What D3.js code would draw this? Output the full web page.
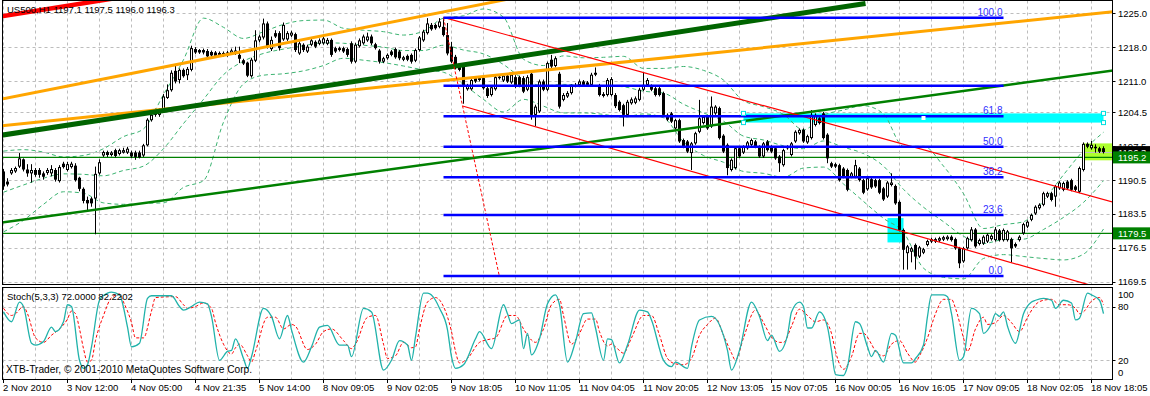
<!DOCTYPE html>
<html>
<head>
<meta charset="utf-8">
<script src="https://cdn.jsdelivr.net/npm/d3@7.9.0/dist/d3.min.js"></script>
<style>
  body { margin: 0; background: #fff; }
</style>
</head>
<body>
<svg id="chart" width="1150" height="396"></svg>
<script>
// hourly candles, [open, high, low, close], 2 Nov 2010 .. 18 Nov 2010
const candles = [
  [1192.3,1192.8,1188.5,1189.2],[1190.2,1190.9,1189.2,1189.6],[1191.9,1193.0,1191.6,1192.6],[1192.3,1193.3,1192.0,1193.0],
  [1193.3,1196.1,1193.0,1195.0],[1194.8,1195.0,1192.3,1192.7],[1192.7,1193.8,1191.2,1191.9],[1191.9,1193.8,1190.0,1192.6],
  [1192.6,1193.0,1191.2,1191.6],[1192.6,1193.0,1191.0,1191.6],[1191.9,1192.3,1190.6,1191.2],[1192.0,1193.0,1191.6,1192.6],
  [1191.9,1193.6,1191.3,1192.8],[1192.6,1193.0,1190.2,1190.6],[1190.3,1193.6,1190.0,1193.2],[1193.9,1194.3,1192.9,1193.2],
  [1192.6,1194.3,1192.3,1193.8],[1193.2,1194.3,1192.9,1193.9],[1193.5,1194.0,1190.2,1190.5],[1191.0,1191.2,1188.2,1188.7],
  [1188.7,1189.0,1185.7,1186.2],[1186.4,1187.1,1184.3,1185.7],[1186.7,1187.0,1185.0,1185.7],[1186.7,1193.3,1179.3,1191.8],
  [1191.9,1194.8,1191.6,1194.2],[1195.6,1196.6,1195.3,1196.3],[1196.3,1196.6,1195.3,1195.7],[1195.7,1196.5,1195.4,1196.2],
  [1196.7,1197.0,1195.2,1195.5],[1195.9,1197.0,1195.6,1196.7],[1196.2,1197.2,1196.0,1196.7],[1196.2,1197.4,1195.9,1197.0],
  [1196.2,1196.6,1195.1,1195.4],[1196.2,1196.6,1194.7,1195.3],[1196.2,1196.6,1195.0,1195.2],[1195.6,1198.0,1195.3,1197.7],
  [1197.7,1203.3,1197.5,1203.0],[1202.9,1204.4,1202.6,1204.0],[1204.0,1205.3,1203.6,1204.6],[1204.0,1205.4,1203.6,1204.8],
  [1205.0,1208.3,1204.8,1207.8],[1207.5,1210.3,1207.3,1209.1],[1209.1,1213.2,1208.8,1212.7],[1213.1,1214.4,1210.5,1210.9],
  [1211.2,1213.6,1210.5,1213.3],[1213.3,1213.6,1211.7,1212.0],[1212.2,1213.9,1211.2,1213.5],[1213.3,1218.3,1213.0,1217.8],
  [1217.6,1218.0,1216.6,1216.9],[1217.4,1217.6,1216.6,1216.9],[1217.4,1217.7,1216.5,1216.9],[1217.2,1217.6,1215.8,1216.1],
  [1217.0,1217.3,1216.0,1216.3],[1216.9,1217.2,1215.9,1216.2],[1216.8,1217.1,1216.0,1216.3],[1216.8,1217.1,1216.0,1216.3],
  [1216.3,1217.2,1216.0,1216.9],[1216.7,1217.7,1216.4,1217.3],[1216.7,1218.1,1216.4,1217.3],[1216.4,1218.1,1214.7,1215.6],
  [1215.3,1215.6,1214.3,1214.6],[1214.8,1215.0,1211.8,1212.1],[1212.0,1215.8,1211.7,1215.4],[1215.2,1221.5,1214.9,1219.4],
  [1219.4,1220.6,1219.0,1220.2],[1220.0,1223.9,1219.6,1222.9],[1222.9,1223.3,1217.7,1218.1],[1217.6,1220.2,1217.2,1219.5],
  [1220.9,1221.5,1219.9,1220.2],[1220.9,1221.3,1217.3,1217.8],[1219.6,1223.1,1219.3,1222.6],[1219.6,1221.3,1219.3,1220.9],
  [1220.4,1221.4,1220.1,1221.0],[1220.7,1221.0,1217.0,1217.4],[1216.7,1219.2,1216.4,1218.8],[1218.5,1218.8,1217.0,1217.4],
  [1217.1,1218.5,1216.8,1218.1],[1218.5,1219.8,1218.2,1219.4],[1219.1,1219.4,1217.8,1218.1],[1218.7,1219.8,1218.4,1219.4],
  [1218.8,1220.2,1218.5,1219.8],[1218.7,1219.9,1218.4,1219.5],[1219.5,1219.8,1216.0,1216.4],[1217.8,1218.1,1216.8,1217.1],
  [1217.4,1218.1,1217.1,1217.8],[1217.8,1218.1,1216.8,1217.1],[1217.6,1217.9,1216.0,1216.4],[1218.8,1219.2,1214.6,1215.0],
  [1215.0,1218.9,1214.7,1218.5],[1218.2,1219.8,1217.9,1219.4],[1218.8,1220.6,1218.5,1220.2],[1219.4,1221.0,1219.1,1220.2],
  [1220.2,1220.6,1218.4,1218.8],[1218.6,1218.9,1217.5,1217.8],[1217.3,1217.6,1214.6,1215.0],[1215.0,1216.0,1214.7,1215.7],
  [1215.7,1216.7,1215.4,1216.4],[1217.1,1217.4,1216.1,1216.4],[1217.6,1217.9,1215.6,1215.9],[1217.1,1217.4,1215.3,1215.7],
  [1215.4,1216.2,1215.1,1215.9],[1216.2,1216.5,1215.1,1215.4],[1216.4,1216.7,1214.6,1215.0],[1215.2,1217.7,1214.9,1217.4],
  [1217.4,1220.3,1217.1,1220.0],[1219.4,1221.6,1219.1,1221.2],[1220.9,1224.0,1220.6,1222.9],[1222.6,1223.0,1221.4,1221.7],
  [1222.6,1222.9,1221.6,1221.9],[1222.2,1224.0,1221.9,1223.3],[1222.2,1224.1,1220.2,1220.5],[1220.5,1223.0,1216.3,1216.7],
  [1218.1,1219.1,1214.7,1215.0],[1216.0,1216.4,1213.4,1213.8],[1214.3,1214.6,1213.0,1213.3],[1214.0,1214.3,1206.3,1209.8],
  [1209.3,1210.4,1209.0,1210.0],[1209.3,1211.5,1209.0,1211.2],[1211.6,1212.0,1210.6,1210.9],[1211.2,1212.0,1210.9,1211.6],
  [1211.6,1212.0,1209.2,1209.5],[1209.5,1209.8,1207.5,1207.9],[1208.1,1210.0,1207.8,1209.7],[1209.3,1212.2,1209.0,1211.8],
  [1211.6,1212.3,1211.3,1211.9],[1211.1,1212.5,1210.8,1212.1],[1212.1,1212.5,1210.6,1210.9],[1210.7,1212.7,1210.4,1212.3],
  [1211.8,1212.2,1209.5,1209.8],[1211.8,1212.1,1209.7,1210.0],[1211.6,1212.0,1208.5,1208.8],[1209.2,1212.2,1208.9,1211.8],
  [1212.5,1212.9,1203.0,1204.0],[1204.0,1206.1,1201.7,1205.7],[1204.7,1211.3,1204.4,1210.9],[1210.9,1211.3,1208.9,1209.2],
  [1209.2,1215.0,1208.9,1214.7],[1215.4,1216.4,1213.7,1214.0],[1214.1,1216.1,1213.8,1215.7],[1212.5,1212.9,1205.3,1205.7],
  [1207.1,1208.5,1206.8,1208.1],[1207.8,1208.9,1207.5,1208.5],[1208.5,1210.3,1208.2,1210.0],[1210.2,1210.6,1209.7,1210.0],
  [1210.2,1211.3,1209.9,1210.9],[1210.9,1211.2,1209.9,1210.2],[1210.7,1211.0,1209.9,1210.2],[1210.2,1212.7,1209.9,1212.3],
  [1212.3,1213.8,1212.0,1212.7],[1210.0,1210.4,1207.8,1208.1],[1208.3,1208.7,1207.6,1207.9],[1208.1,1211.6,1207.8,1211.2],
  [1208.1,1211.8,1207.8,1211.4],[1208.1,1208.5,1205.4,1205.8],[1206.7,1207.0,1204.7,1205.0],[1206.0,1206.3,1201.6,1204.0],
  [1204.0,1207.1,1203.7,1206.7],[1206.4,1207.6,1206.1,1207.2],[1206.5,1207.8,1206.2,1207.4],[1207.1,1209.6,1206.8,1209.2],
  [1209.2,1212.9,1208.9,1210.2],[1210.2,1211.6,1209.9,1211.2],[1210.0,1210.3,1208.9,1209.2],[1209.5,1209.8,1207.8,1208.1],
  [1209.5,1209.8,1207.8,1208.1],[1208.5,1208.8,1203.7,1204.0],[1204.0,1204.3,1202.7,1203.0],[1204.3,1204.6,1202.3,1202.6],
  [1201.2,1203.2,1200.9,1202.9],[1202.9,1203.2,1198.2,1198.5],[1198.8,1199.1,1197.1,1197.4],[1198.5,1198.8,1196.1,1196.4],
  [1196.1,1198.4,1192.6,1198.1],[1198.1,1200.5,1197.8,1200.2],[1200.5,1207.1,1200.2,1203.3],[1202.3,1203.9,1202.0,1203.6],
  [1203.6,1203.9,1200.9,1201.2],[1201.6,1207.8,1201.3,1205.7],[1204.3,1206.0,1204.0,1205.7],[1205.4,1205.7,1198.9,1199.2],
  [1199.7,1200.0,1196.1,1196.4],[1197.8,1198.1,1191.5,1193.0],[1192.6,1195.0,1192.3,1194.7],[1193.0,1197.4,1192.7,1197.1],
  [1197.1,1197.4,1195.1,1195.4],[1196.2,1197.7,1195.9,1197.4],[1197.1,1198.6,1196.8,1198.3],[1197.8,1199.1,1197.5,1198.8],
  [1198.5,1198.8,1197.1,1197.4],[1197.4,1197.7,1195.1,1195.4],[1195.4,1198.4,1195.1,1198.1],[1198.5,1198.8,1196.4,1196.7],
  [1197.4,1197.7,1196.1,1196.4],[1197.1,1197.4,1194.7,1195.0],[1195.4,1195.7,1192.2,1194.0],[1193.6,1197.0,1193.3,1196.7],
  [1197.4,1197.7,1196.8,1197.1],[1195.7,1198.4,1195.4,1198.1],[1198.5,1200.8,1198.2,1200.5],[1200.2,1201.2,1199.9,1200.9],
  [1200.9,1201.2,1198.2,1198.5],[1198.3,1199.9,1198.0,1199.6],[1199.2,1205.0,1198.9,1204.0],[1201.9,1204.3,1201.6,1204.0],
  [1203.3,1203.6,1202.0,1202.3],[1204.3,1204.6,1198.9,1199.2],[1199.9,1200.2,1194.0,1195.0],[1194.0,1194.3,1193.0,1193.3],
  [1193.8,1194.1,1193.0,1193.3],[1193.6,1193.9,1190.2,1190.5],[1192.9,1193.2,1190.9,1191.2],[1192.6,1192.9,1188.2,1188.5],
  [1191.2,1192.2,1190.9,1191.9],[1191.2,1194.7,1190.9,1193.6],[1192.9,1193.2,1190.2,1190.5],[1190.5,1190.8,1187.6,1187.9],
  [1188.6,1191.2,1188.3,1190.9],[1190.7,1191.0,1188.7,1189.0],[1190.5,1190.8,1188.9,1189.2],[1190.5,1190.8,1187.6,1187.9],
  [1188.8,1189.1,1186.2,1186.5],[1187.1,1190.3,1186.8,1190.0],[1189.5,1191.9,1189.2,1190.0],[1189.3,1189.6,1185.4,1185.7],
  [1186.0,1186.3,1179.9,1180.2],[1180.2,1180.5,1172.0,1176.1],[1175.4,1177.1,1172.0,1176.8],[1175.7,1176.7,1173.5,1176.4],
  [1177.1,1177.4,1172.0,1174.7],[1174.7,1176.9,1174.4,1176.6],[1175.5,1176.5,1175.2,1176.2],[1177.1,1178.2,1176.8,1177.9],
  [1177.8,1178.6,1177.5,1178.3],[1177.8,1178.6,1177.5,1178.3],[1178.0,1178.8,1177.7,1178.5],[1178.2,1179.0,1177.9,1178.7],
  [1178.3,1179.1,1178.0,1178.8],[1178.8,1179.1,1177.8,1178.1],[1178.3,1178.6,1176.1,1176.4],[1176.4,1176.7,1172.3,1173.3],
  [1173.7,1176.7,1173.4,1176.4],[1176.4,1178.8,1176.1,1178.5],[1178.1,1180.8,1177.8,1180.3],[1180.3,1180.6,1176.5,1176.8],
  [1177.3,1178.4,1177.0,1178.1],[1177.4,1179.1,1177.1,1178.8],[1177.8,1179.5,1177.5,1179.2],[1178.3,1179.3,1178.0,1179.0],
  [1178.1,1180.8,1177.8,1180.3],[1180.1,1180.4,1177.8,1178.1],[1178.1,1180.5,1177.8,1180.2],[1178.1,1180.2,1177.8,1179.9],
  [1178.3,1178.6,1173.5,1176.4],[1177.3,1177.6,1176.5,1176.8],[1178.1,1179.1,1177.8,1178.8],[1179.5,1181.7,1179.2,1181.4],
  [1180.9,1182.2,1180.6,1181.9],[1182.3,1183.6,1182.0,1183.3],[1183.6,1185.3,1183.3,1185.0],[1184.7,1185.7,1184.4,1185.4],
  [1185.4,1188.1,1185.1,1187.8],[1187.1,1188.1,1186.8,1187.8],[1187.8,1188.1,1186.1,1186.4],[1187.1,1189.5,1185.0,1189.2],
  [1188.8,1190.3,1188.5,1190.0],[1188.5,1190.2,1188.2,1189.9],[1190.2,1190.5,1188.5,1188.8],[1190.5,1190.8,1188.2,1188.5],
  [1189.2,1189.5,1188.2,1188.5],[1188.1,1193.3,1187.8,1193.0],[1192.6,1198.3,1192.3,1198.0],[1198.0,1198.3,1197.1,1197.4],
  [1197.1,1198.6,1196.8,1197.8],[1197.4,1197.9,1196.2,1197.1],[1197.1,1197.4,1196.1,1196.4],[1197.1,1197.5,1196.0,1196.3]
];

// bollinger bands, read every 5 bars
const bandBars = d3.range(0, 276, 5);
const bandUpper = [1196.5,1196.8,1196.3,1195.3,1195.6,1197.0,1199.5,1201.1,1208.2,1215.4,1224.0,1222.1,1219.8,1221.2,
  1222.7,1223.5,1223.6,1221.9,1221.5,1221.2,1220.5,1221.3,1224.0,1224.5,1225.9,1224.2,1215.5,1214.2,1216.2,1215.8,
  1215.9,1216.1,1213.6,1213.6,1214.0,1213.2,1211.2,1206.9,1205.7,1204.1,1200.9,1203.9,1205.0,1205.9,1204.2,1197.5,
  1197.5,1193.4,1187.7,1180.5,1181.3,1181.9,1186.3,1191.6,1196.6,1200.4];
const bandMid = [1188.0,1189.5,1190.9,1191.8,1191.7,1191.4,1192.5,1193.4,1197.0,1202.2,1207.2,1212.3,1215.1,1216.7,
  1217.6,1218.3,1218.9,1218.8,1218.4,1218.0,1217.3,1217.3,1218.4,1217.4,1216.6,1214.4,1211.4,1210.0,1210.3,1210.1,
  1210.0,1209.8,1208.9,1208.5,1206.2,1204.4,1202.7,1199.6,1198.8,1197.6,1197.0,1198.6,1197.3,1196.0,1193.4,1188.6,
  1184.9,1181.9,1178.9,1177.4,1178.2,1178.3,1180.3,1182.8,1185.9,1190.4];
const bandLower = [1179.8,1182.2,1185.5,1188.1,1187.8,1185.8,1185.5,1185.7,1185.8,1189.0,1190.4,1202.5,1210.4,1212.2,
  1212.5,1213.1,1214.2,1215.7,1215.3,1214.8,1214.1,1213.3,1212.8,1210.3,1207.2,1204.6,1207.2,1205.8,1204.4,1204.4,
  1204.1,1203.5,1204.2,1203.4,1198.4,1195.6,1194.2,1192.3,1191.9,1191.1,1193.0,1193.2,1189.7,1186.1,1182.6,1179.7,
  1172.3,1170.4,1170.1,1174.3,1175.1,1174.7,1174.3,1174.0,1175.2,1180.4];

// stochastic (5,3,3): [bar, value]
const stochK = [[0,74],[2,63],[4,85],[5,80],[7,39],[8,37],[10,41],[12,57],[13,52],[15,63],[16,82],[17,80],[19,20],[20,11],
  [21,15],[22,35],[24,87],[26,95],[27,96],[29,93],[31,57],[32,35],[34,39],[36,89],[37,92],[42,92],[44,80],[45,76],[47,80],
  [49,85],[51,83],[52,69],[54,20],[56,30],[57,31],[58,44],[60,22],[61,11],[62,24],[65,78],[67,69],[69,44],[71,70],[72,54],
  [75,18],[77,35],[79,57],[81,59],[84,37],[86,37],[87,24],[90,78],[92,74],[95,9],[97,20],[99,42],[101,37],[102,20],[103,46],
  [105,95],[106,95],[108,87],[109,78],[111,54],[112,24],[113,11],[115,15],[118,44],[119,52],[122,33],[125,82],[126,72],
  [127,61],[129,65],[130,33],[131,50],[132,26],[134,44],[136,83],[138,93],[139,82],[141,18],[143,41],[145,72],[147,73],
  [148,56],[150,20],[151,44],[152,43],[154,17],[156,37],[159,76],[161,74],[162,65],[165,20],[167,13],[168,18],[171,11],
  [172,35],[174,65],[177,69],[181,31],[182,9],[184,31],[187,85],[189,69],[191,42],[192,48],[194,30],[196,48],[197,74],
  [199,85],[200,80],[201,56],[202,56],[204,74],[206,57],[207,31],[208,4],[210,3],[211,13],[213,63],[214,61],[216,35],
  [217,24],[218,31],[220,18],[222,50],[223,48],[225,17],[227,17],[228,22],[230,37],[231,69],[232,93],[235,93],[236,91],
  [237,72],[239,20],[240,24],[242,78],[244,72],[245,50],[247,61],[248,72],[249,69],[250,74],[251,58],[253,39],[255,72],
  [257,85],[258,87],[260,89],[262,87],[263,78],[265,87],[267,84],[268,65],[269,67],[271,95],[272,93],[274,87],[275,72]];
const stochD = [[0,78],[2,70],[3,72],[5,80],[6,72],[8,45],[10,40],[12,48],[14,55],[16,66],[17,75],[18,72],[19,55],[20,33],
  [21,18],[22,20],[23,42],[25,70],[27,90],[29,94],[30,85],[32,62],[33,45],[35,45],[37,75],[38,90],[43,91],[45,82],[46,78],
  [48,80],[50,84],[52,78],[53,62],[55,38],[57,27],[58,34],[59,38],[61,25],[62,18],[63,30],[66,68],[68,68],[70,55],[72,60],
  [73,58],[76,32],[78,38],[80,52],[82,55],[85,42],[87,33],[88,38],[91,68],[93,70],[95,38],[96,22],[98,25],[100,40],[102,34],
  [103,35],[104,55],[106,85],[108,90],[110,80],[112,52],[113,30],[114,17],[116,22],[119,40],[121,43],[123,45],[126,70],
  [128,70],[130,55],[131,48],[133,40],[135,55],[137,82],[139,88],[140,70],[142,38],[144,50],[146,66],[148,66],[149,52],
  [151,36],[152,38],[153,35],[155,28],[157,45],[160,70],[162,70],[164,48],[166,22],[168,16],[170,15],[172,22],[174,48],
  [176,60],[178,67],[180,48],[182,28],[183,20],[185,45],[188,76],[190,62],[192,46],[194,40],[195,40],[197,58],[199,77],
  [201,70],[203,63],[205,65],[207,50],[208,30],[210,10],[212,24],[214,50],[215,50],[217,38],[218,30],[220,25],[222,38],
  [224,42],[226,28],[228,18],[229,25],[231,45],[233,72],[235,88],[237,88],[238,78],[240,45],[241,30],[243,55],[245,68],
  [246,60],[248,62],[250,70],[252,62],[254,52],[256,68],[258,82],[260,87],[262,88],[264,82],[266,82],[268,78],[269,72],
  [270,74],[272,86],[274,90],[275,82]];

const timeLabels = ['2 Nov 2010','3 Nov 12:00','4 Nov 05:00','4 Nov 21:35','5 Nov 14:00','8 Nov 09:05','9 Nov 02:05',
  '9 Nov 18:05','10 Nov 11:05','11 Nov 04:05','11 Nov 20:05','12 Nov 13:05','15 Nov 07:05','16 Nov 00:05',
  '16 Nov 16:05','17 Nov 09:05','18 Nov 02:05','18 Nov 18:05'];
const priceTicks = [1225.0,1218.0,1211.0,1204.5,1197.5,1190.5,1183.5,1176.5,1169.5];
const stochTicks = [100, 80, 20, 0];
const stochGrid = [80, 20];

// drawn objects: [bar, price] anchors
const redThick = [[-2,1224.19],[40,1229.71]];
const greenThick = [[-2,1199.6],[215.5,1227.03]];
const orangeUpper = [[-2,1207.03],[140,1230.18]];
const orangeLower = [[-2,1201.61],[278,1225.35]];
const greenLine = [[-2,1181.57],[278,1213.24]];
const redUpper = [[110,1224.15],[278,1185.83]];
const redLower = [[114.75,1205.83],[278,1167.3]];
const fibTrend = [[110,1224.1],[124,1170.5]];
const fibRange = [110, 250, 1170.68, 1224.1];   // bar from, bar to, 0% price, 100% price
const fibLevels = [0, 23.6, 38.2, 50, 61.8, 73.6, 100];
const fibNames = ['0.0','23.6','38.2','50.0','61.8','','100.0'];
const hLines = [1195.2, 1179.5];
const bidPrice = 1196.3;
const cyanZone = [185, 275, 1204.3, 1202.4];
const cyanBox = [221, 225, 1182.66, 1177.62];
const limeZone = [270, 285, 1198.1, 1194.6];
const title = 'US500,H1  1197.1 1197.5 1196.0 1196.3';
const stochTitle = 'Stoch(5,3,3) 72.0000 82.2202';
const copyright = 'XTB-Trader, \u00a9 2001-2010 MetaQuotes Software Corp.';

const FONT = '"Liberation Sans", Arial, sans-serif';
const FS = 9.5;
const left = 2.5, right = 1112.5, mainTop = 0.5, mainBot = 284.5, subTop = 287.5, subBot = 379.5;

const svg = d3.select('#chart');
svg.append('rect').attr('width', 1150).attr('height', 396).attr('fill', '#fff');

const x = d3.scaleLinear().domain([0, 275]).range([3.5, 1103.5]);
const y = d3.scaleLinear().domain([1169.5, 1225]).range([281.7, 13.3]);
const ys = d3.scaleLinear().domain([0, 100]).range([378.2, 288.6]);

const defs = svg.append('defs');
defs.append('clipPath').attr('id', 'clipMain').append('rect')
  .attr('x', left).attr('y', mainTop).attr('width', right - left).attr('height', mainBot - mainTop);
defs.append('clipPath').attr('id', 'clipSub').append('rect')
  .attr('x', left).attr('y', subTop).attr('width', right - left).attr('height', subBot - subTop);

const main = svg.append('g').attr('clip-path', 'url(#clipMain)');
const sub = svg.append('g').attr('clip-path', 'url(#clipSub)');
const gridBars = d3.range(0, 276, 8);
const crisp = v => Math.round(v) + 0.5;

// grid
main.selectAll('.hg').data(priceTicks).join('line').attr('class', 'hg')
  .attr('x1', left).attr('x2', right).attr('y1', d => crisp(y(d))).attr('y2', d => crisp(y(d)))
  .attr('stroke', '#bdbdbd').attr('stroke-dasharray', '3,3');
main.selectAll('.vg').data(gridBars).join('line').attr('class', 'vg')
  .attr('x1', d => x(d)).attr('x2', d => x(d)).attr('y1', mainTop).attr('y2', mainBot)
  .attr('stroke', '#bdbdbd').attr('stroke-dasharray', '3,3');
sub.selectAll('.hg').data(stochGrid).join('line').attr('class', 'hg')
  .attr('x1', left).attr('x2', right).attr('y1', d => crisp(ys(d))).attr('y2', d => crisp(ys(d)))
  .attr('stroke', '#bdbdbd').attr('stroke-dasharray', '3,3');
sub.selectAll('.vg').data(gridBars).join('line').attr('class', 'vg')
  .attr('x1', d => x(d)).attr('x2', d => x(d)).attr('y1', subTop).attr('y2', subBot)
  .attr('stroke', '#bdbdbd').attr('stroke-dasharray', '3,3');

// background rectangles
function zone(z, fill) {
  main.append('rect')
    .attr('x', x(z[0])).attr('width', x(z[1]) - x(z[0]))
    .attr('y', y(z[2])).attr('height', y(z[3]) - y(z[2]))
    .attr('fill', fill);
}
zone(limeZone, '#adff2f');
zone(cyanZone, '#00ffff');
zone(cyanBox, '#00ffff');

// bollinger bands
const bandLine = d3.line().x(d => x(d[0])).y(d => y(d[1])).curve(d3.curveMonotoneX);
[bandUpper, bandMid, bandLower].forEach(vals => {
  main.append('path').datum(bandBars.map((b, i) => [b, vals[i]]))
    .attr('d', bandLine).attr('fill', 'none')
    .attr('stroke', '#3cb371').attr('stroke-width', 1).attr('stroke-dasharray', '4,3');
});

// horizontal lines
main.append('line').attr('x1', left).attr('x2', right)
  .attr('y1', crisp(y(bidPrice))).attr('y2', crisp(y(bidPrice))).attr('stroke', '#c0c0c0');
main.selectAll('.hl').data(hLines).join('line').attr('class', 'hl')
  .attr('x1', left).attr('x2', right).attr('y1', d => y(d)).attr('y2', d => y(d))
  .attr('stroke', '#008000').attr('stroke-width', 1.3);

// candles
const cg = main.append('g');
candles.forEach((c, i) => {
  const [o, h, l, cl] = c;
  const cx = x(i);
  cg.append('line').attr('x1', cx).attr('x2', cx).attr('y1', y(h)).attr('y2', y(l))
    .attr('stroke', '#000').attr('stroke-width', 1);
  const top = y(Math.max(o, cl)), bot = y(Math.min(o, cl));
  const hgt = Math.max(bot - top, 1.5);
  cg.append('rect').attr('x', cx - 1.5).attr('y', top).attr('width', 3).attr('height', hgt).attr('fill', '#000');
  if (cl >= o && hgt > 2) {
    cg.append('rect').attr('x', cx - 0.5).attr('y', top + 1).attr('width', 1).attr('height', hgt - 2).attr('fill', '#fff');
  }
});

// title under the objects
svg.append('text').attr('x', 7).attr('y', 13).attr('font-family', FONT).attr('font-size', FS)
  .attr('fill', '#000').text(title);

// trend lines
function trend(pts, color, width, dash) {
  const ln = main.append('line')
    .attr('x1', x(pts[0][0])).attr('y1', y(pts[0][1]))
    .attr('x2', x(pts[1][0])).attr('y2', y(pts[1][1]))
    .attr('stroke', color).attr('stroke-width', width);
  if (dash) ln.attr('stroke-dasharray', dash);
}
trend(greenLine, '#008000', 2.5);
trend(orangeLower, '#ffa500', 3);
trend(orangeUpper, '#ffa500', 3);
trend(greenThick, '#006400', 5);
trend(redUpper, '#ff0000', 1.2);
trend(redLower, '#ff0000', 1.2);
trend(fibTrend, '#ff0000', 1, '3,2');

// fibonacci
const fibPrice = lv => fibRange[2] + (fibRange[3] - fibRange[2]) * lv / 100;
main.selectAll('.fib').data(fibLevels).join('line').attr('class', 'fib')
  .attr('x1', x(fibRange[0])).attr('x2', x(fibRange[1]))
  .attr('y1', d => y(fibPrice(d))).attr('y2', d => y(fibPrice(d)))
  .attr('stroke', '#0000ff').attr('stroke-width', 2.5);
main.selectAll('.fibt').data(fibLevels).join('text').attr('class', 'fibt')
  .attr('x', x(fibRange[1]) - 1).attr('y', d => y(fibPrice(d)) - 2)
  .attr('text-anchor', 'end').attr('font-family', FONT).attr('font-size', 10)
  .attr('fill', '#3030ff').text((d, i) => fibNames[i]);

// rectangle handles
const handles = [[cyanZone[0], cyanZone[2]], [cyanZone[0], cyanZone[3]], [cyanZone[1], cyanZone[2]],
  [cyanZone[1], cyanZone[3]], [(cyanZone[0] + cyanZone[1]) / 2, (cyanZone[2] + cyanZone[3]) / 2]];
main.selectAll('.hd').data(handles).join('rect').attr('class', 'hd')
  .attr('x', d => x(d[0]) - 2).attr('y', d => y(d[1]) - 2).attr('width', 4).attr('height', 4)
  .attr('fill', '#fff').attr('stroke', (d, i) => i < 4 ? '#00e0e0' : 'none').attr('stroke-width', 1);

// red thick line over the title
trend(redThick, '#ff0000', 4.5);

// stochastic
const stLine = d3.line().x(d => x(d[0])).y(d => ys(d[1])).curve(d3.curveMonotoneX);
sub.append('path').datum(stochD).attr('d', stLine).attr('fill', 'none')
  .attr('stroke', '#ff0000').attr('stroke-width', 1).attr('stroke-dasharray', '3,2');
sub.append('path').datum(stochK).attr('d', stLine).attr('fill', 'none')
  .attr('stroke', '#20b2aa').attr('stroke-width', 1.3);
svg.append('text').attr('x', 7).attr('y', 300).attr('font-family', FONT).attr('font-size', FS).text(stochTitle);
svg.append('text').attr('x', 6).attr('y', 373).attr('font-family', FONT).attr('font-size', 10.2).text(copyright);

// panel borders
svg.append('rect').attr('x', left).attr('y', mainTop).attr('width', right - left).attr('height', mainBot - mainTop)
  .attr('fill', 'none').attr('stroke', '#000');
svg.append('rect').attr('x', left).attr('y', subTop).attr('width', right - left).attr('height', subBot - subTop)
  .attr('fill', 'none').attr('stroke', '#000');

// right price axis
const axisG = svg.append('g');
axisG.selectAll('.tk').data(priceTicks).join('line').attr('class', 'tk')
  .attr('x1', right).attr('x2', right + 3).attr('y1', d => crisp(y(d))).attr('y2', d => crisp(y(d)))
  .attr('stroke', '#000');
axisG.selectAll('.tl').data(priceTicks).join('text').attr('class', 'tl')
  .attr('x', 1118).attr('y', d => y(d) + 3.5).attr('font-family', FONT).attr('font-size', FS)
  .text(d => d.toFixed(1));

// price marker boxes
function marker(p, fill) {
  axisG.append('rect').attr('x', 1113).attr('y', y(p) - 6).attr('width', 37).attr('height', 12).attr('fill', fill);
  axisG.append('text').attr('x', 1118).attr('y', y(p) + 3.5).attr('font-family', FONT).attr('font-size', FS)
    .attr('fill', '#fff').text(p.toFixed(1));
}
marker(bidPrice, '#000');
hLines.forEach(p => marker(p, '#008000'));

// stochastic axis, labels kept inside the panel
const stochLabelY = v => Math.min(Math.max(ys(v), 294.5), 372.5);
stochTicks.forEach(v => {
  axisG.append('text').attr('x', 1118).attr('y', stochLabelY(v) + 3.5)
    .attr('font-family', FONT).attr('font-size', FS).attr('fill', '#000').text(v.toString());
});
axisG.selectAll('.stk').data(stochGrid).join('line').attr('class', 'stk')
  .attr('x1', right).attr('x2', right + 3).attr('y1', d => crisp(ys(d))).attr('y2', d => crisp(ys(d)))
  .attr('stroke', '#000');

// time axis
const labelBars = timeLabels.map((t, i) => i * 16);
axisG.selectAll('.tt').data(labelBars).join('line').attr('class', 'tt')
  .attr('x1', d => x(d)).attr('x2', d => x(d)).attr('y1', subBot).attr('y2', subBot + 3.5).attr('stroke', '#000');
axisG.selectAll('.tx').data(labelBars).join('text').attr('class', 'tx')
  .attr('x', d => x(d) - 0.5).attr('y', 391).attr('font-family', FONT).attr('font-size', FS)
  .text((d, i) => timeLabels[i]);
</script>
</body>
</html>
